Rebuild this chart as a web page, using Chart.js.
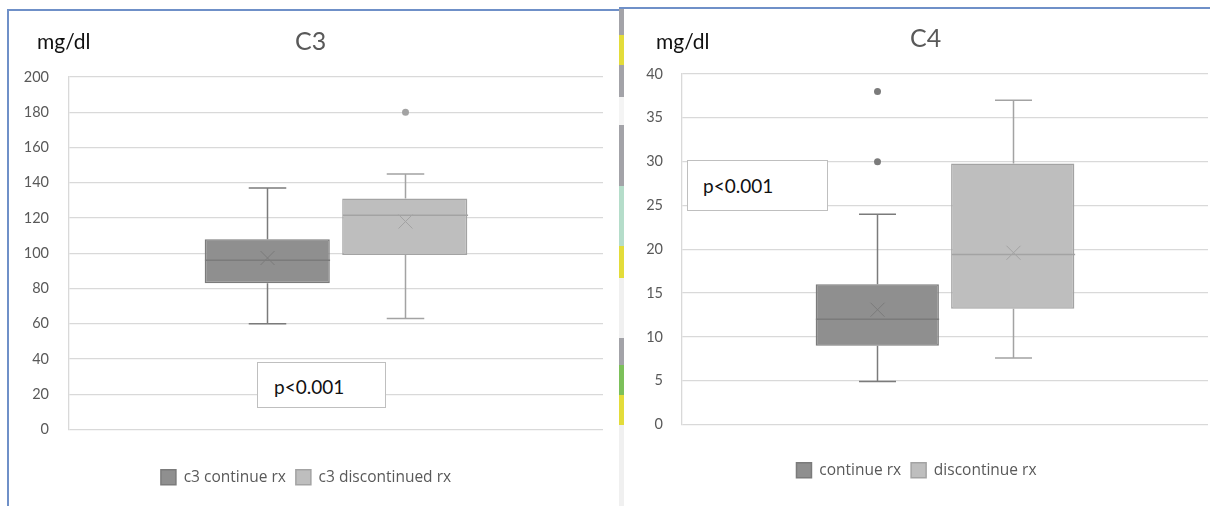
<!DOCTYPE html>
<html>
<head>
<meta charset="utf-8">
<script src="https://cdn.jsdelivr.net/npm/chart.js@4.4.0/dist/chart.umd.min.js"></script>
<style>
body{margin:0;background:#fff;width:1210px;height:506px;overflow:hidden;position:relative;font-family:Lato,"Open Sans",sans-serif}
.frame1{position:absolute;left:7px;top:9px;width:612px;height:497px;border-left:2px solid #6f90c8;border-top:2px solid #6f90c8;box-sizing:border-box}
.frame2{position:absolute;left:619px;top:7px;width:591px;height:2px;background:#6f90c8}
.strip{position:absolute;left:619px;top:9px;width:5px;height:497px;
background:linear-gradient(to bottom,#a3a3a8 0,#a3a3a8 26px,#e3dc3a 26px,#e3dc3a 56px,#a3a3a8 56px,#a3a3a8 88px,#f4f4f4 88px,#f4f4f4 116px,#a3a3a8 116px,#a3a3a8 177px,#b5ddca 177px,#b5ddca 237px,#e3dc3a 237px,#e3dc3a 269px,#f0f0f0 269px,#f0f0f0 329px,#a3a3a8 329px,#a3a3a8 356px,#7cc05a 356px,#7cc05a 386px,#e3dc3a 386px,#e3dc3a 416px,#f0f0f0 416px)}
.cv{position:absolute}
.txt{position:absolute;white-space:nowrap;line-height:1}
.unit{font-size:21px;color:#111}
.ttl{font-size:25px;color:#595959}
.pbox{position:absolute;background:#fff;border:1px solid #bfbfbf;box-sizing:border-box;font-size:19px;color:#111;line-height:1}
</style>
</head>
<body>
<div class="frame1"></div>
<div class="frame2"></div>
<div class="strip"></div>

<div class="cv" style="left:9px;top:11px;width:608px;height:495px"><canvas id="c3chart"></canvas></div>
<div class="cv" style="left:625px;top:10px;width:585px;height:496px"><canvas id="c4chart"></canvas></div>

<div class="txt unit" style="left:37px;top:30px">mg/dl</div>
<div class="txt ttl" style="left:295px;top:28px">C3</div>
<div class="txt unit" style="left:656px;top:30px">mg/dl</div>
<div class="txt ttl" style="left:910px;top:25px">C4</div>

<div class="pbox" style="left:257px;top:362px;width:129px;height:46px;padding:14px 0 0 16px">p&lt;0.001</div>
<div class="pbox" style="left:687px;top:160px;width:141px;height:51px;padding:15px 0 0 15px">p&lt;0.001</div>

<script>
// C3 (mg/dl)
const c3Labels = ['c3 continue rx', 'c3 discontinued rx']
const c3Min = [60, 63]
const c3Q1 = [83, 99]
const c3Median = [96, 121.5]
const c3Q3 = [108, 131]
const c3Max = [137, 145]
const c3Mean = [97.3, 118]
const c3Outliers = [[], [180]]
const c3Ticks = {min: 0, max: 200, step: 20}

// C4 (mg/dl)
const c4Labels = ['continue rx', 'discontinue rx']
const c4Min = [4.9, 7.6]
const c4Q1 = [9, 13.2]
const c4Median = [12, 19.4]
const c4Q3 = [16, 29.8]
const c4Max = [24, 37]
const c4Mean = [13.1, 19.6]
const c4Outliers = [[30, 38], []]
const c4Ticks = {min: 0, max: 40, step: 5}

const fills = ['#8f8f8f', '#bebebe']
const edges = ['#7b7b7b', '#a3a3a3']

// whiskers, median, mean X and outliers on top of the floating bars
const boxPlot = {
  id: 'boxPlot',
  afterDatasetsDraw(chart) {
    const ctx = chart.ctx
    const y = chart.scales.y
    chart.data.datasets.forEach((ds, i) => {
      const bar = chart.getDatasetMeta(i).data[0]
      const s = ds.stats
      const cx = Math.round(bar.x) + 0.5
      const half = bar.width / 2
      const cap = bar.width * 0.15
      const top = y.getPixelForValue(s.q3)
      const bot = y.getPixelForValue(s.q1)
      ctx.save()
      ctx.strokeStyle = edges[i]
      ctx.lineWidth = 1.5
      ctx.beginPath()
      // upper whisker
      ctx.moveTo(cx, top); ctx.lineTo(cx, y.getPixelForValue(s.max))
      ctx.moveTo(cx - cap, y.getPixelForValue(s.max)); ctx.lineTo(cx + cap, y.getPixelForValue(s.max))
      // lower whisker
      ctx.moveTo(cx, bot); ctx.lineTo(cx, y.getPixelForValue(s.min))
      ctx.moveTo(cx - cap, y.getPixelForValue(s.min)); ctx.lineTo(cx + cap, y.getPixelForValue(s.min))
      // median
      ctx.moveTo(cx - half, y.getPixelForValue(s.median)); ctx.lineTo(cx + half, y.getPixelForValue(s.median))
      ctx.stroke()
      // mean
      const my = y.getPixelForValue(s.mean)
      ctx.lineWidth = 1
      ctx.beginPath()
      ctx.moveTo(cx - 7, my - 7); ctx.lineTo(cx + 7, my + 7)
      ctx.moveTo(cx - 7, my + 7); ctx.lineTo(cx + 7, my - 7)
      ctx.stroke()
      // outliers
      ctx.fillStyle = edges[i]
      s.out.forEach(v => {
        ctx.beginPath()
        ctx.arc(cx, y.getPixelForValue(v), 3.5, 0, Math.PI * 2)
        ctx.fill()
      })
      ctx.restore()
    })
  }
}

function makeChart(id, labels, mins, q1s, meds, q3s, maxs, means, outs, ticks, geo) {
  const datasets = labels.map((lab, i) => ({
    label: lab,
    data: [[q1s[i], q3s[i]]],
    backgroundColor: fills[i],
    borderColor: edges[i],
    borderWidth: 1.5,
    borderSkipped: false,
    categoryPercentage: 0.515,
    barPercentage: 0.91,
    stats: {min: mins[i], q1: q1s[i], median: meds[i], q3: q3s[i], max: maxs[i], mean: means[i], out: outs[i]}
  }))
  return new Chart(document.getElementById(id), {
    type: 'bar',
    data: {labels: [''], datasets: datasets},
    plugins: [boxPlot],
    options: {
      responsive: true,
      maintainAspectRatio: false,
      animation: false,
      layout: {padding: {top: geo.top, right: geo.right, bottom: geo.bottom, left: 0}},
      plugins: {
        tooltip: {enabled: false},
        title: {display: false},
        legend: {
          position: 'bottom',
          labels: {boxWidth: 15, boxHeight: 15, padding: 10, color: '#595959', font: {family: 'Open Sans', size: 15.5}}
        }
      },
      scales: {
        x: {
          grid: {display: false},
          border: {display: false},
          ticks: {display: false},
          afterFit: s => { s.height = geo.xh }
        },
        y: {
          min: ticks.min,
          max: ticks.max,
          ticks: {stepSize: ticks.step, color: '#595959', padding: geo.tp, font: {family: 'Lato', size: 14.5}},
          grid: {color: '#d9d9d9', lineWidth: 1.3, drawTicks: false},
          border: {display: true, color: '#d9d9d9', width: 1.3},
          afterFit: s => { s.width = geo.yw }
        }
      }
    }
  })
}

makeChart('c3chart', c3Labels, c3Min, c3Q1, c3Median, c3Q3, c3Max, c3Mean, c3Outliers, c3Ticks,
  {top: 66, right: 14, bottom: 11, xh: 30, yw: 60, tp: 20})
makeChart('c4chart', c4Labels, c4Min, c4Q1, c4Median, c4Q3, c4Max, c4Mean, c4Outliers, c4Ticks,
  {top: 64, right: 2, bottom: 18, xh: 28, yw: 57, tp: 19})
</script>
</body>
</html>
